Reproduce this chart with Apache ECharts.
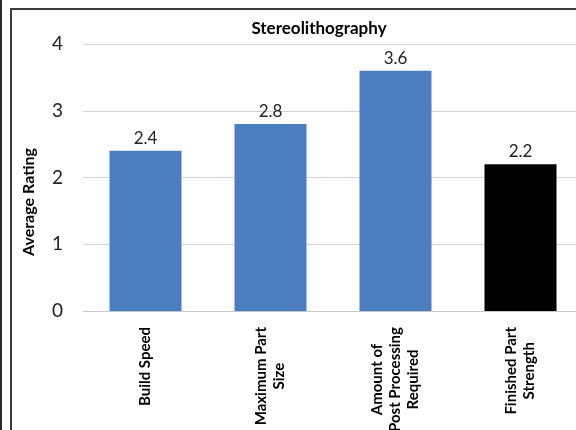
<!DOCTYPE html>
<html>
<head>
<meta charset="utf-8">
<script src="https://cdn.jsdelivr.net/npm/echarts@6/dist/echarts.min.js"></script>
<style>
  html, body { margin: 0; padding: 0; background: #fff; overflow: hidden; }
  #chart { position: absolute; left: 0; top: 0; width: 576px; height: 430px; }
  #frame { position: absolute; left: 10px; top: 8px; width: 700px; height: 600px;
           border-left: 2px solid #3c3c3c; border-top: 2px solid #3c3c3c; pointer-events: none; }
  #edge { position: absolute; left: 0; top: 0; width: 2px; height: 430px; background: #2a2a2a; }
</style>
</head>
<body>
<div id="chart"></div>
<div id="frame"></div>
<div id="edge"></div>
<script>
const titleText = 'Stereolithography';
const yAxisName = 'Average Rating';
const categories = ['Build Speed', 'Maximum Part\nSize', 'Amount of\nPost Processing\nRequired', 'Finished Part\nStrength'];
const ratings = [2.4, 2.8, 3.6, 2.2];
const barColors = ['#4a7ebf', '#4a7ebf', '#4a7ebf', '#000000'];
const yTicks = [0, 1, 2, 3, 4];

const FONT = 'Lato, "Open Sans", sans-serif';
const chart = echarts.init(document.getElementById('chart'), null, { renderer: 'canvas' });
chart.setOption({
  backgroundColor: '#ffffff',
  animation: false,
  title: {
    text: titleText, left: 314, top: 15, textAlign: 'center',
    textStyle: { fontFamily: FONT, fontSize: 17, fontWeight: 'bold', color: '#000' }
  },
  graphic: [{
    type: 'text', x: 29, y: 202, rotation: Math.PI / 2,
    style: { text: yAxisName, align: 'center', verticalAlign: 'middle',
             font: 'bold 16px ' + FONT, fill: '#000' }
  }],
  grid: { left: 83, top: 44, width: 500, height: 267, containLabel: false, outerBoundsMode: 'none' },
  xAxis: {
    type: 'category', data: categories,
    axisLine: { show: true, lineStyle: { color: '#c8c8c8', width: 1 } },
    axisTick: { show: false },
    axisLabel: {
      interval: 0, rotate: 90, margin: 16,
      formatter: function (v) { return v.split('\n').map(function (l) { return '{c|' + l + '}'; }).join('\n'); },
      rich: { c: { align: 'center', fontFamily: FONT, fontSize: 15, fontWeight: 'bold', color: '#000', lineHeight: 18 } }
    }
  },
  yAxis: {
    type: 'value', min: yTicks[0], max: yTicks[yTicks.length - 1], interval: 1,
    axisLine: { show: false }, axisTick: { show: false },
    axisLabel: { margin: 20, fontFamily: FONT, fontSize: 19, color: '#222' },
    splitLine: { lineStyle: { color: '#d4d4d4', width: 1 } }
  },
  series: [{
    type: 'bar', barWidth: 72,
    data: ratings.map(function (v, i) { return { value: v, itemStyle: { color: barColors[i] } }; }),
    label: { show: true, position: 'top', distance: 4, fontFamily: FONT, fontSize: 17, color: '#222',
             formatter: function (p) { return p.value.toFixed(1); } }
  }]
});
</script>
</body>
</html>
